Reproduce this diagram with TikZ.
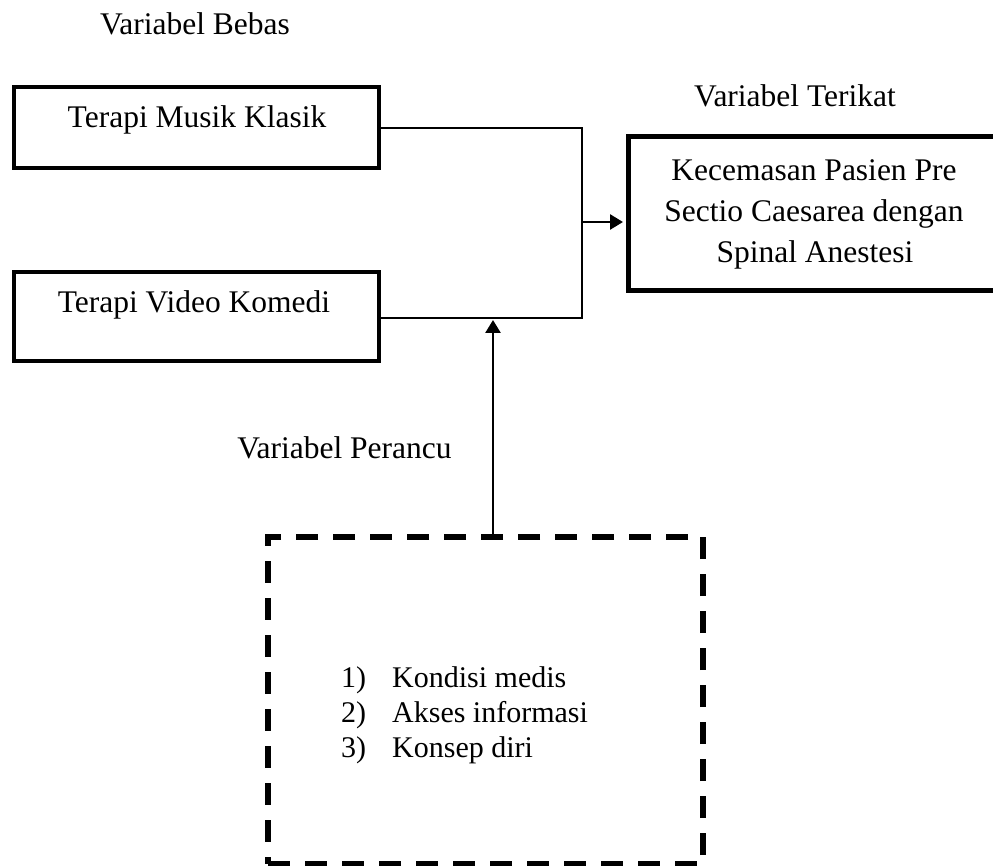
\documentclass[tikz,border=0pt]{standalone}
\usepackage{fontspec}
\setmainfont{Liberation Serif}
\usetikzlibrary{arrows.meta}
\begin{document}
\begin{tikzpicture}[x=1pt,y=-1pt,
  txt/.style={anchor=base, inner sep=0pt, font=\fontsize{31.5}{38}\selectfont},
  listtxt/.style={anchor=base west, inner sep=0pt, font=\fontsize{30}{36}\selectfont},
  solidbox/.style={draw, line width=4.5pt, rectangle, inner sep=0pt},
  conn/.style={draw, line width=1.3pt},
  arr/.style={draw, line width=2.6pt, -{Triangle[length=13pt,width=15pt]}},
  dashbox/.style={draw, line width=5.5pt, dash pattern=on 22pt off 15pt, rectangle, inner sep=0pt}]
\clip (0,0) rectangle (993,866);
\fill[white] (0,0) rectangle (993,866);
% titles
\node[txt] (tbebas) at (195,35) {Variabel Bebas};
\node[txt] (tterikat) at (795,107) {Variabel Terikat};
\node[txt] (tperancu) at (344.5,458) {Variabel Perancu};
% independent variable boxes
\node[solidbox, minimum width=365pt, minimum height=81pt] (b1) at (196.5,127.5) {};
\node[txt] (t1) at (197,128) {Terapi Musik Klasik};
\node[solidbox, minimum width=365pt, minimum height=89pt] (b2) at (196.5,316.5) {};
\node[txt] (t2) at (194,313) {Terapi Video Komedi};
% dependent variable box (open at the right edge)
\node[solidbox, line width=5pt, minimum width=432pt, minimum height=154pt] (rb) at (844,214) {};
\node[txt] (r1) at (814,181) {Kecemasan Pasien Pre};
\node[txt] (r2) at (814,222) {Sectio Caesarea dengan};
\node[txt] (r3) at (815,263) {Spinal Anestesi};
% confounding box
\node[dashbox, minimum width=435pt, minimum height=327pt] (db) at (485.5,700.5) {};
\node[listtxt] (l1) at (341,687) {\makebox[51pt][l]{1)}Kondisi medis};
\node[listtxt] (l2) at (341,722) {\makebox[51pt][l]{2)}Akses informasi};
\node[listtxt] (l3) at (341,757) {\makebox[51pt][l]{3)}Konsep diri};
% connectors
\coordinate (jt) at (582,128);
\coordinate (jb) at (582,318);
\coordinate (jm) at (582,222);
\coordinate (up) at (493,320);
\draw[conn] (b1.east |- jt) -- (jt) -- (jb) -- (b2.east |- jb);
\draw[arr, shorten >=2.5pt] (jm) -- (jm -| rb.west);
\draw[arr] (db.north -| up) -- (up);
\end{tikzpicture}
\end{document}
